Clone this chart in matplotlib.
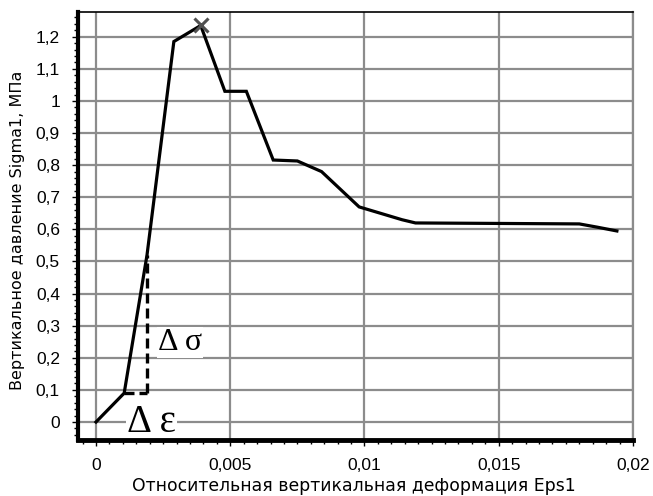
import matplotlib
matplotlib.use("Agg")
import matplotlib.pyplot as plt
from matplotlib.ticker import MultipleLocator, FuncFormatter

# Data
eps = [0.0, 0.00105, 0.0019, 0.0029, 0.0039, 0.0048, 0.0056, 0.0066, 0.0075,
       0.0084, 0.0098, 0.0114, 0.0119, 0.0180, 0.01866, 0.0194]
sig = [0.0, 0.09, 0.52, 1.185, 1.235, 1.03, 1.03, 0.816, 0.813,
       0.78, 0.67, 0.63, 0.62, 0.617, 0.607, 0.595]
peak_eps = [0.0039]
peak_sig = [1.235]

x_ticks = [0, 0.005, 0.01, 0.015, 0.02]
y_ticks = [0, 0.1, 0.2, 0.3, 0.4, 0.5, 0.6, 0.7, 0.8, 0.9, 1.0, 1.1, 1.2]

xlabel = "Относительная вертикальная деформация Eps1"
ylabel = "Вертикальное давление Sigma1, МПа"

W, H = 653, 496
fig = plt.figure(figsize=(W/100, H/100), dpi=100)
ax = fig.add_axes([78/W, 1-440/H, (633-78)/W, (440-12)/H])
ax.set_xlim(-0.00067, 0.02)
ax.set_ylim(-0.056, 1.277)

grid_col = "#8c8c8c"
for xv in x_ticks:
    ax.axvline(xv, color=grid_col, lw=1.6, zorder=1)
for yv in y_ticks:
    ax.axhline(yv, color=grid_col, lw=1.6, zorder=1)

# dashed construction lines for the modulus
ax.plot([eps[1], eps[2]], [sig[1], sig[1]], color="black", lw=2.4,
        ls=(0, (3, 1.5)), zorder=3)
ax.plot([eps[2], eps[2]], [sig[1], sig[2]], color="black", lw=2.4,
        ls=(0, (3, 1.5)), zorder=3)

ax.plot(eps, sig, color="black", lw=2.3, zorder=4, solid_joinstyle="miter")
ax.plot(peak_eps, peak_sig, marker="x", color="#505050", ms=10, mew=2.2,
        ls="none", zorder=5)

ax.text(0.0023, 0.224, "Δ σ", fontsize=23, family="Liberation Serif",
        ha="left", va="baseline", zorder=6,
        bbox=dict(facecolor="white", edgecolor="none", pad=0.5))
ax.text(0.00115, -0.031, "Δ ε", fontsize=28, family="Liberation Serif",
        ha="left", va="baseline", zorder=6,
        bbox=dict(facecolor="white", edgecolor="none", pad=0.5))

ax.set_xticks(x_ticks)
ax.set_yticks(y_ticks)
fmt = lambda v, p: ("%g" % v).replace(".", ",")
ax.xaxis.set_major_formatter(FuncFormatter(fmt))
ax.yaxis.set_major_formatter(FuncFormatter(fmt))
ax.xaxis.set_minor_locator(MultipleLocator(0.0005))
ax.yaxis.set_minor_locator(MultipleLocator(0.02))
ax.tick_params(which="major", length=4, width=1, color="black", direction="out",
               labelsize=12.5, pad=9)
ax.tick_params(which="minor", length=3, width=1, color="black", direction="out")
for lab in ax.get_xticklabels() + ax.get_yticklabels():
    lab.set_family("Liberation Sans")

ax.spines["left"].set_linewidth(3)
ax.spines["bottom"].set_linewidth(3.5)
ax.spines["top"].set_linewidth(1.2)
ax.spines["right"].set_color(grid_col)
ax.spines["right"].set_linewidth(1.6)
for sp in ax.spines.values():
    sp.set_zorder(10)

fig.text(354/W, 1-491/H, xlabel, fontsize=12.4, family="DejaVu Sans",
         ha="center", va="baseline")
fig.text(18/W, 1-230/H, ylabel, fontsize=11.5, family="DejaVu Sans",
         ha="center", va="center", rotation=90)

fig.savefig("out.png", dpi=100, facecolor="white")
